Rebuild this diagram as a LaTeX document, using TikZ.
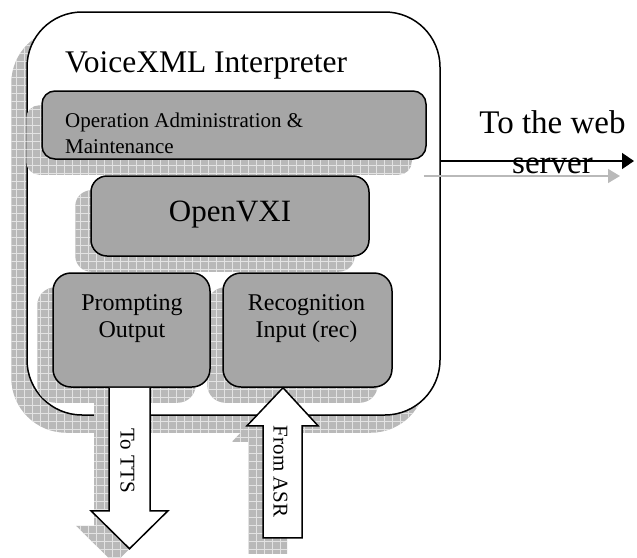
\documentclass[tikz,border=0pt]{standalone}
\usepackage{fontspec}
\setmainfont{Liberation Serif}
\usetikzlibrary{patterns.meta,arrows.meta,calc}
\definecolor{boxgray}{RGB}{166,166,166}
\pgfdeclarelayer{l0}
\pgfdeclarelayer{l1}
\pgfdeclarelayer{l2}
\pgfsetlayers{l0,l1,l2,main}
\begin{document}
\begin{tikzpicture}[x=1pt,y=-1pt,
  shadowfill/.style={preaction={fill=gray!55}, pattern={Hatch[angle=0,distance=8pt,line width=0.6pt]}, pattern color=gray!22},
  blk/.style={draw=black, line width=1.5pt, fill=boxgray, rounded corners=15pt, inner sep=0pt},
  blkarrow/.style={draw=black, line width=1.5pt, fill=white, line join=miter},
  lbl/.style={inner sep=0pt, align=center}]
\useasboundingbox (0,0) rectangle (637,557);

% outer box
\begin{pgfonlayer}{l1}
\node[draw=black, line width=1.5pt, fill=white, rounded corners=55pt, minimum width=413pt, minimum height=403pt, inner sep=0pt] (outer) at (233.5,213.5) {};
\end{pgfonlayer}
\begin{pgfonlayer}{l0}
\path[shadowfill, rounded corners=55pt] ($(outer.north west)+(-15,17)$) rectangle ($(outer.south east)+(-15,17)$);
\end{pgfonlayer}

\node[anchor=base west, inner sep=0pt, font=\fontsize{31.5}{36}\selectfont] (title) at (65,72) {VoiceXML Interpreter};

% inner boxes
\node[blk, rounded corners=13pt, minimum width=384pt, minimum height=68pt] (oam) at (234,125) {};
\node[blk, rounded corners=16pt, minimum width=278pt, minimum height=80pt] (vxi) at (230,216) {};
\node[blk, rounded corners=18pt, minimum width=157pt, minimum height=114pt] (prompt) at (131.5,330) {};
\node[blk, rounded corners=18pt, minimum width=169pt, minimum height=114pt] (recog) at (307.5,330) {};

\begin{pgfonlayer}{l2}
\foreach \b/\r in {oam/13pt, vxi/16pt, prompt/18pt, recog/18pt}{
  \path[shadowfill, rounded corners=\r] ($(\b.north west)+(-15,15)$) rectangle ($(\b.south east)+(-15,15)$);
}
\end{pgfonlayer}

% labels (base anchor = baseline of last line)
\node[anchor=base west, lbl, align=left, font=\fontsize{21}{26}\selectfont] (oamtxt) at (65,153) {Operation Administration \&\\Maintenance};
\node[anchor=base, lbl, font=\fontsize{31}{36}\selectfont] (vxitxt) at (230,221) {OpenVXI};
\node[anchor=base, lbl, font=\fontsize{24}{27}\selectfont] (prompttxt) at (132,337) {Prompting\\Output};
\node[anchor=base, lbl, font=\fontsize{24}{27}\selectfont] (recogtxt) at (306.5,337) {Recognition\\Input (rec)};

% block arrows
\begin{scope}[shift={(prompt.south)}]
  \begin{pgfonlayer}{l2}
  \path[shadowfill, shift={(-15,15)}] (-22.5,0) -- (-22.5,123) -- (-40.5,123) -- (-2,161) -- (36.5,123) -- (18.5,123) -- (18.5,0) -- cycle;
  \end{pgfonlayer}
  \draw[blkarrow] (-22.5,0) -- (-22.5,123) -- (-40.5,123) -- (-2,161) -- (36.5,123) -- (18.5,123) -- (18.5,0);
  \node[rotate=-90, inner sep=0pt, font=\fontsize{21}{24}\selectfont] (tts) at (-4,73) {To TTS};
\end{scope}
\begin{scope}[shift={(recog.south)}]
  \begin{pgfonlayer}{l2}
  \path[shadowfill, shift={(-15,16)}] (-24.5,0) -- (-60.5,38) -- (-44.5,38) -- (-44.5,150) -- (-5.5,150) -- (-5.5,38) -- (10.5,38) -- cycle;
  \end{pgfonlayer}
  \draw[blkarrow] (-24.5,0) -- (-60.5,38) -- (-44.5,38) -- (-44.5,150) -- (-5.5,150) -- (-5.5,38) -- (10.5,38) -- cycle;
  \node[rotate=-90, inner sep=0pt, font=\fontsize{21}{24}\selectfont] (asr) at (-27,84) {From ASR};
\end{scope}

% web server arrow
\node[anchor=base, lbl, font=\fontsize{33}{40}\selectfont] (webtxt) at (552.5,173) {To the web\\server};
\coordinate (webstart) at ($(outer.east)+(0,-52.5)$);
\coordinate (webend) at (634,161);
\coordinate (webshs) at ($(webstart)+(-17,15)$);
\coordinate (webshe) at ($(webend)+(-14,15)$);
\begin{pgfonlayer}{l2}
\draw[gray!55, line width=1.2pt, -{Triangle[length=12pt,width=14pt]}] (webshs) -- (webshe);
\end{pgfonlayer}
\draw[black, line width=1.5pt, -{Triangle[length=12pt,width=16pt]}] (webstart) -- (webend);
\end{tikzpicture}
\end{document}
